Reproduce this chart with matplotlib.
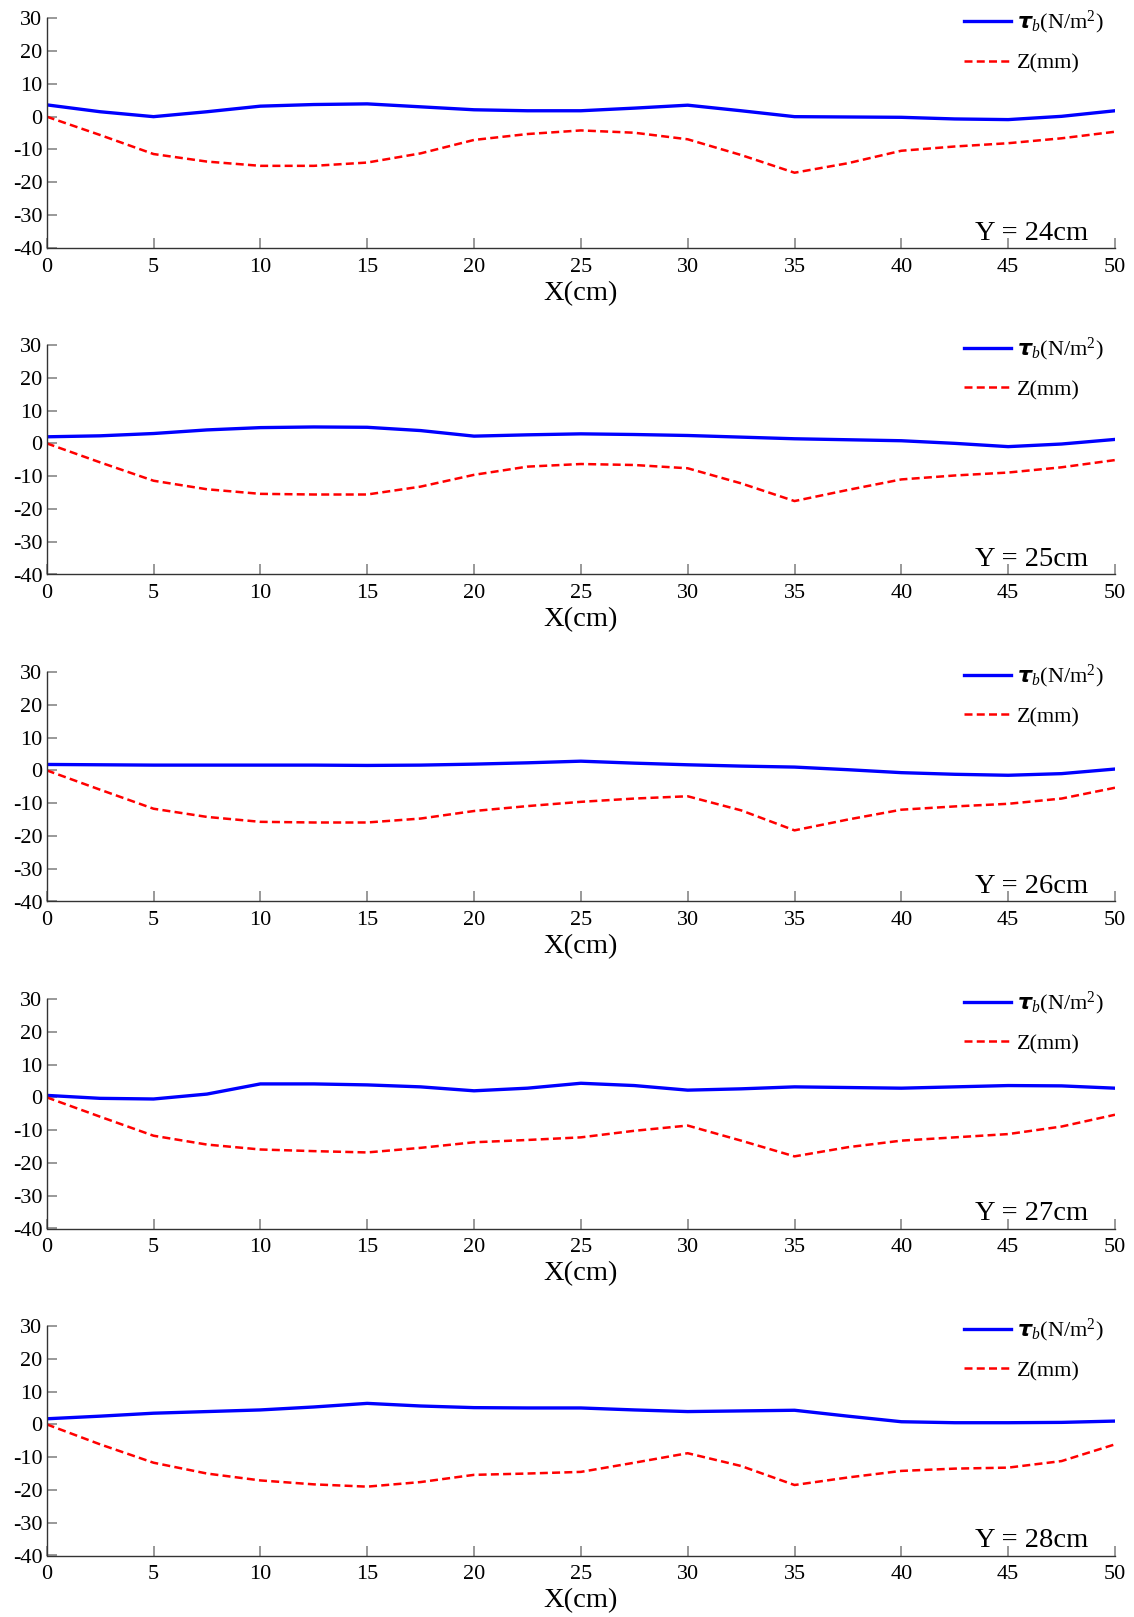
import numpy as np
import matplotlib
matplotlib.use("Agg")
import matplotlib.pyplot as plt

plt.rcParams['font.family'] = ['Liberation Serif', 'DejaVu Serif']
plt.rcParams['mathtext.fontset'] = 'custom'
plt.rcParams['mathtext.rm'] = 'Liberation Serif'
plt.rcParams['mathtext.it'] = 'Liberation Serif:italic'
plt.rcParams['mathtext.bf'] = 'Liberation Serif:bold:italic'
plt.rcParams['axes.unicode_minus'] = False

# x positions (cm)
x = [0, 2.5, 5, 7.5, 10, 12.5, 15, 17.5, 20, 22.5, 25,
     27.5, 30, 32.5, 35, 37.5, 40, 42.5, 45, 47.5, 50]

section_labels = ["Y = 24cm", "Y = 25cm", "Y = 26cm", "Y = 27cm", "Y = 28cm"]

# bed shear stress tau_b (N/m2)
tau_24 = [3.6, 1.5, 0.0, 1.5, 3.2, 3.7, 3.9, 3.0, 2.1, 1.8, 1.8,
          2.6, 3.5, 1.8, 0.0, -0.1, -0.2, -0.7, -0.9, 0.1, 1.8]
tau_25 = [2.0, 2.3, 3.0, 4.1, 4.8, 5.0, 4.9, 3.9, 2.2, 2.6, 2.9,
          2.7, 2.4, 1.9, 1.4, 1.1, 0.8, 0.0, -1.0, -0.2, 1.2]
tau_26 = [1.8, 1.7, 1.6, 1.6, 1.6, 1.6, 1.5, 1.6, 1.9, 2.3, 2.8,
          2.2, 1.7, 1.3, 1.0, 0.2, -0.7, -1.2, -1.5, -1.0, 0.4]
tau_27 = [0.6, -0.3, -0.5, 1.0, 4.1, 4.1, 3.8, 3.2, 2.0, 2.8, 4.3,
          3.6, 2.2, 2.6, 3.2, 3.0, 2.8, 3.2, 3.6, 3.5, 2.8]
tau_28 = [1.7, 2.5, 3.4, 3.9, 4.4, 5.3, 6.4, 5.6, 5.1, 5.0, 5.0,
          4.4, 3.9, 4.1, 4.3, 2.5, 0.8, 0.5, 0.5, 0.6, 1.0]

# bed elevation change Z (mm)
z_24 = [0, -5.6, -11.4, -13.7, -15.0, -15.0, -14.0, -11.2, -7.1, -5.3, -4.2,
        -4.9, -6.9, -11.7, -17.1, -14.2, -10.4, -9.1, -8.1, -6.6, -4.6]
z_25 = [0, -5.8, -11.4, -14.0, -15.4, -15.6, -15.6, -13.2, -9.6, -7.1, -6.3,
        -6.6, -7.6, -12.2, -17.6, -14.2, -11.0, -9.8, -8.9, -7.3, -5.1]
z_26 = [0, -5.9, -11.7, -14.2, -15.7, -15.9, -15.9, -14.7, -12.4, -10.9, -9.6,
        -8.6, -7.9, -12.2, -18.3, -15.0, -12.0, -11.0, -10.2, -8.6, -5.3]
z_27 = [0, -5.9, -11.7, -14.4, -15.9, -16.4, -16.8, -15.4, -13.7, -13.0, -12.2,
        -10.2, -8.6, -13.2, -18.0, -15.2, -13.2, -12.2, -11.2, -8.9, -5.3]
z_28 = [0, -6.1, -11.7, -15.0, -17.1, -18.3, -19.0, -17.6, -15.4, -15.0, -14.5,
        -11.7, -8.8, -12.7, -18.5, -16.2, -14.2, -13.5, -13.2, -11.2, -6.1]

taus = [tau_24, tau_25, tau_26, tau_27, tau_28]
zs = [z_24, z_25, z_26, z_27, z_28]

W, H = 1134, 1617
fig = plt.figure(figsize=(W / 100, H / 100), dpi=100)

left = 46.7 / W
width = (1115 - 46.7) / W
ax_h = 229.5
tops = [18.3, 345, 672, 999, 1326]

for i in range(5):
    bottom = 1 - (tops[i] + ax_h) / H
    ax = fig.add_axes([left, bottom, width, ax_h / H])
    ax.plot(x, taus[i], color='#0000ff', lw=2.4, label=r'$\boldsymbol{\tau}_{b}$(N/m$^{2}$)')
    ax.plot(x, zs[i], color='#ff0000', lw=1.8, ls=(0, (3.2, 1.7)), label='Z(mm)')
    ax.set_xlim(0, 50)
    ax.set_ylim(-40, 30)
    ax.set_xticks(np.arange(0, 51, 5))
    ax.set_yticks(np.arange(-40, 31, 10))
    ax.spines['top'].set_visible(False)
    ax.spines['right'].set_visible(False)
    for s in ['left', 'bottom']:
        ax.spines[s].set_color('#333333')
        ax.spines[s].set_linewidth(1.0)
    ax.tick_params(direction='in', length=7, width=1.2, color='#888888',
                   labelsize=16, labelcolor='black')
    ax.tick_params(axis='x', pad=7)
    ax.tick_params(axis='y', pad=3)
    ax.set_xlabel('X(cm)', fontsize=20.5, labelpad=3)
    ax.text(0.975, 0.01, section_labels[i], transform=ax.transAxes,
            ha='right', va='bottom', fontsize=20.5)
    leg = ax.legend(loc='upper right', bbox_to_anchor=(0.989, 1.04), frameon=False,
                    fontsize=16, handlelength=2.1, handletextpad=0.25,
                    labelspacing=0.75, borderpad=0, borderaxespad=0)

fig.savefig('out.png', dpi=100)
